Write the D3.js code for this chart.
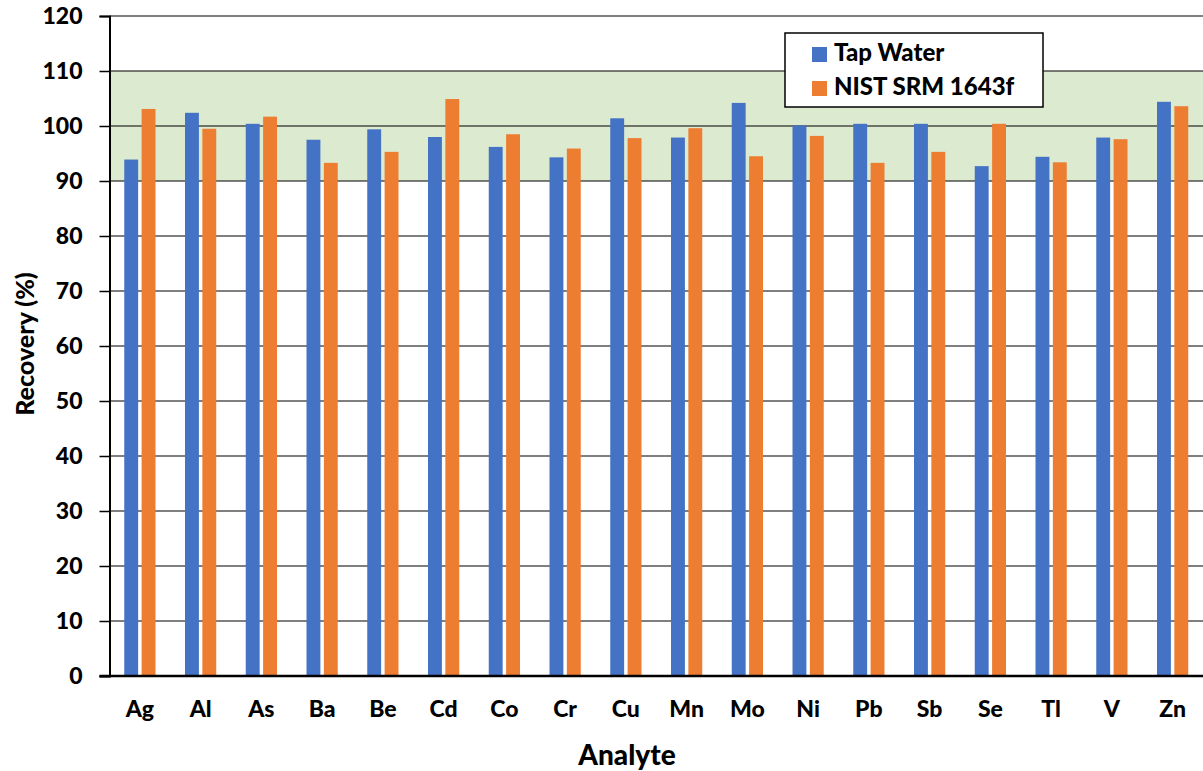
<!DOCTYPE html>
<html>
<head>
<meta charset="utf-8">
<script src="https://cdn.jsdelivr.net/npm/d3@7"></script>
<style>
  body { margin: 0; background: #fff; }
  svg { display: block; font-family: Lato, "Open Sans", sans-serif; font-weight: 900; }
</style>
</head>
<body>
<svg width="1203" height="771"></svg>
<script>
let analytes = ['Ag', 'Al', 'As', 'Ba', 'Be', 'Cd', 'Co', 'Cr', 'Cu', 'Mn', 'Mo', 'Ni', 'Pb', 'Sb', 'Se', 'Tl', 'V', 'Zn']
let tapWater = [93.9, 102.4, 100.4, 97.5, 99.4, 98.0, 96.2, 94.3, 101.4, 97.9, 104.2, 100.1, 100.4, 100.4, 92.7, 94.4, 97.9, 104.4]
let nist = [103.1, 99.5, 101.7, 93.3, 95.3, 104.9, 98.5, 95.9, 97.8, 99.6, 94.5, 98.2, 93.3, 95.3, 100.4, 93.4, 97.6, 103.6]
let seriesNames = ['Tap Water', 'NIST SRM 1643f']
let colors = ['#4472C4', '#ED7D31']
let yTicks = [0, 10, 20, 30, 40, 50, 60, 70, 80, 90, 100, 110, 120]
let band = [90, 110]

let width = 1203
let height = 771
let margin = { top: 16, bottom: 95, left: 109.5, right: 0 }

let rows = analytes.map((a, i) => ({ name: a, values: [tapWater[i], nist[i]] }))

let x0 = d3.scaleBand()
  .domain(analytes)
  .range([margin.left, width - margin.right])
  .paddingInner(0)
  .paddingOuter(0)

let x1 = d3.scaleBand()
  .domain(d3.range(seriesNames.length))
  .range([0, x0.bandwidth()])
  .paddingInner(0.2)
  .paddingOuter(0.85)

let y = d3.scaleLinear()
  .domain([0, 120])
  .range([height - margin.bottom, margin.top])

let svg = d3.select('svg')

// green acceptance band
svg.append('rect')
  .attr('x', margin.left)
  .attr('y', y(band[1]))
  .attr('width', width - margin.right - margin.left)
  .attr('height', y(band[0]) - y(band[1]))
  .attr('fill', '#DCEAD0')

// gridlines
svg.append('g')
  .selectAll('line')
  .data(yTicks.filter(t => t > 0))
  .join('line')
  .attr('x1', margin.left)
  .attr('x2', width - margin.right)
  .attr('y1', d => y(d))
  .attr('y2', d => y(d))
  .attr('stroke', '#000')
  .attr('stroke-width', 1.2)

// bars
let groups = svg.append('g')
  .selectAll('g')
  .data(rows)
  .join('g')
  .attr('transform', d => 'translate(' + [x0(d.name), 0] + ')')

groups.selectAll('rect')
  .data(d => d.values.map((v, i) => ({ v, i })))
  .join('rect')
  .attr('x', d => x1(d.i))
  .attr('y', d => y(d.v))
  .attr('width', x1.bandwidth())
  .attr('height', d => y(0) - y(d.v))
  .attr('fill', d => colors[d.i])

// y axis
let yAxis = d3.axisLeft(y).tickValues(yTicks).tickSize(10).tickPadding(17)
let gy = svg.append('g')
  .attr('transform', 'translate(' + [margin.left, 0] + ')')
  .call(yAxis)
gy.select('.domain').attr('stroke', '#000').attr('stroke-width', 2)
gy.selectAll('.tick line').attr('stroke', '#000').attr('stroke-width', 1.5)
gy.selectAll('.tick text')
  .attr('fill', '#000')
  .style('font-size', '23px')
  .style('font-weight', '900')
  .style('font-family', 'Lato, sans-serif')

// x axis
let xAxis = d3.axisBottom(x0).tickSize(0).tickPadding(25)
let gx = svg.append('g')
  .attr('transform', 'translate(' + [0, y(0)] + ')')
  .call(xAxis)
gx.select('.domain').remove()
gx.append('line')
  .attr('x1', margin.left - 10)
  .attr('x2', width)
  .attr('stroke', '#000')
  .attr('stroke-width', 2.5)
gx.selectAll('.tick text')
  .attr('fill', '#000')
  .style('font-size', '23px')
  .style('font-weight', '900')
  .style('font-family', 'Lato, sans-serif')

// axis titles
svg.append('text')
  .attr('x', 627)
  .attr('y', 765)
  .attr('text-anchor', 'middle')
  .style('font-size', '28px')
  .text('Analyte')

svg.append('text')
  .attr('transform', 'translate(' + [34, 344] + ') rotate(-90)')
  .attr('text-anchor', 'middle')
  .style('font-size', '25px')
  .text('Recovery (%)')

// legend
let legend = svg.append('g').attr('transform', 'translate(' + [785, 33] + ')')
legend.append('rect')
  .attr('width', 258)
  .attr('height', 74)
  .attr('fill', '#fff')
  .attr('stroke', '#000')
  .attr('stroke-width', 1.5)

let items = legend.selectAll('g.item')
  .data(seriesNames)
  .join('g')
  .attr('class', 'item')
  .attr('transform', (d, i) => 'translate(' + [27, 14 + i * 34] + ')')

items.append('rect')
  .attr('width', 15)
  .attr('height', 15)
  .attr('fill', (d, i) => colors[i])

items.append('text')
  .attr('x', 22)
  .attr('y', 14)
  .style('font-size', '24px')
  .text(d => d)
</script>
</body>
</html>
